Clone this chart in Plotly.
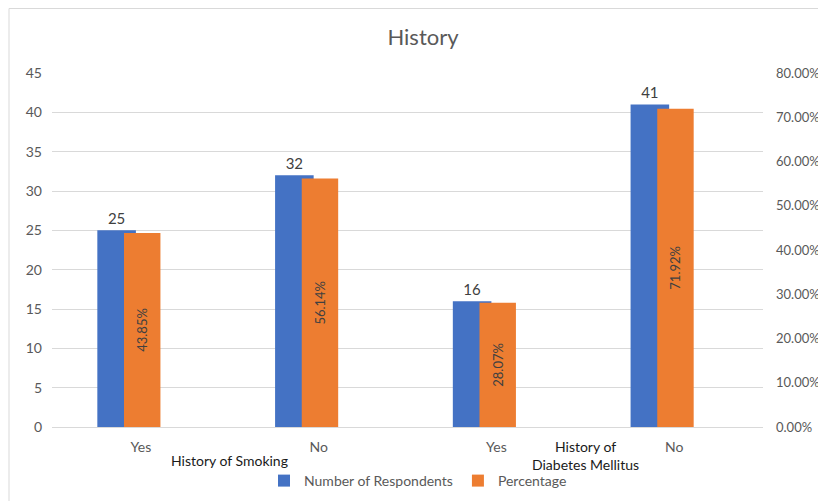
import plotly.graph_objects as go

categories = ["Yes", "No", "Yes", "No"]
groups = ["History of Smoking", "History of<br>Diabetes Mellitus"]
respondents = [25, 32, 16, 41]
percentage = [0.4385, 0.5614, 0.2807, 0.7192]
left_ticks = [0, 5, 10, 15, 20, 25, 30, 35, 40, 45]
right_ticks = [0.0, 0.1, 0.2, 0.3, 0.4, 0.5, 0.6, 0.7, 0.8]

FONT = "Lato"
TICK_COLOR = "#595959"
LABEL_COLOR = "#404040"
GRID = "#d9d9d9"

xpos = list(range(len(categories)))

# page body has an 8px margin: work in figure coordinates (reference - 8)
OFF = 8
W, H = 826 - OFF, 501 - OFF
L = 52 - OFF
R = W - (763 - OFF)
T = 73 - OFF
B = H - (427 - OFF)
pw, ph = W - L - R, H - T - B
AX = 427 - OFF  # y of the x axis in figure coords


def py(yref_px):
    return (AX - (yref_px - OFF)) / ph


def px(xref_px):
    return ((xref_px - OFF) - L) / pw


fig = go.Figure()
fig.add_trace(go.Bar(
    x=xpos, y=respondents, name="Number of Respondents",
    marker=dict(color="#4472c4", line=dict(width=0)),
    width=0.217, offset=-0.245,
    text=[str(v) for v in respondents], textposition="outside",
    textfont=dict(family=FONT, size=15, color=LABEL_COLOR),
    cliponaxis=False, yaxis="y",
))
fig.add_trace(go.Bar(
    x=xpos, y=percentage, name="Percentage",
    marker=dict(color="#ed7d31", line=dict(width=0)),
    width=0.205, offset=-0.095,
    text=[f"{v*100:.2f}%" for v in percentage], textposition="inside",
    textangle=-90, insidetextanchor="middle",
    textfont=dict(family=FONT, size=13, color=LABEL_COLOR),
    yaxis="y2",
))

annotations = [
    dict(x=0.5, y=py(460), xref="x", yref="paper", text=groups[0],
         showarrow=False, font=dict(family=FONT, size=14, color="#1a1a1a"),
         xanchor="center", yanchor="middle"),
    dict(x=2.5, y=py(455), xref="x", yref="paper", text=groups[1],
         showarrow=False, font=dict(family=FONT, size=14, color="#1a1a1a"),
         xanchor="center", yanchor="middle", align="center"),
]

fig.update_layout(
    width=W, height=H,
    margin=dict(l=L, r=R, t=T, b=B, autoexpand=False),
    paper_bgcolor="white", plot_bgcolor="white",
    barmode="overlay",
    title=dict(text="History", x=px(423), xref="paper", xanchor="center",
               y=1 - (37 - OFF) / H, yanchor="middle",
               font=dict(family=FONT, size=22, color=TICK_COLOR)),
    font=dict(family=FONT, size=15, color=TICK_COLOR),
    xaxis=dict(tickmode="array", tickvals=xpos, ticktext=categories,
               range=[-0.5, 3.5], showgrid=False, showline=False, zeroline=False,
               ticks="", ticklabelstandoff=10,
               tickfont=dict(family=FONT, size=14, color=TICK_COLOR)),
    yaxis=dict(range=[0, 45], tickvals=left_ticks, showgrid=True, gridcolor=GRID,
               gridwidth=1, zeroline=True, zerolinecolor=GRID, zerolinewidth=1,
               showline=False, ticks="", ticklabelstandoff=9,
               tickfont=dict(family=FONT, size=14, color=TICK_COLOR)),
    yaxis2=dict(range=[0, 0.8], tickvals=right_ticks, tickformat=".2%",
                overlaying="y", side="right", showgrid=False, zeroline=False,
                showline=False, ticks="", ticklabelstandoff=12,
                tickfont=dict(family=FONT, size=13, color=TICK_COLOR)),
    legend=dict(orientation="h", x=px(418), xanchor="center",
                y=py(481), yanchor="middle",
                font=dict(family=FONT, size=14, color=TICK_COLOR),
                itemwidth=30, traceorder="normal"),
    annotations=annotations,
    shapes=[dict(type="rect", xref="paper", yref="paper",
                 x0=px(9), x1=px(840), y0=py(515), y1=py(8.5),
                 line=dict(color="#d9d9d9", width=1), fillcolor="rgba(0,0,0,0)",
                 layer="below")],
    showlegend=True,
)

fig.write_html("out.html")
